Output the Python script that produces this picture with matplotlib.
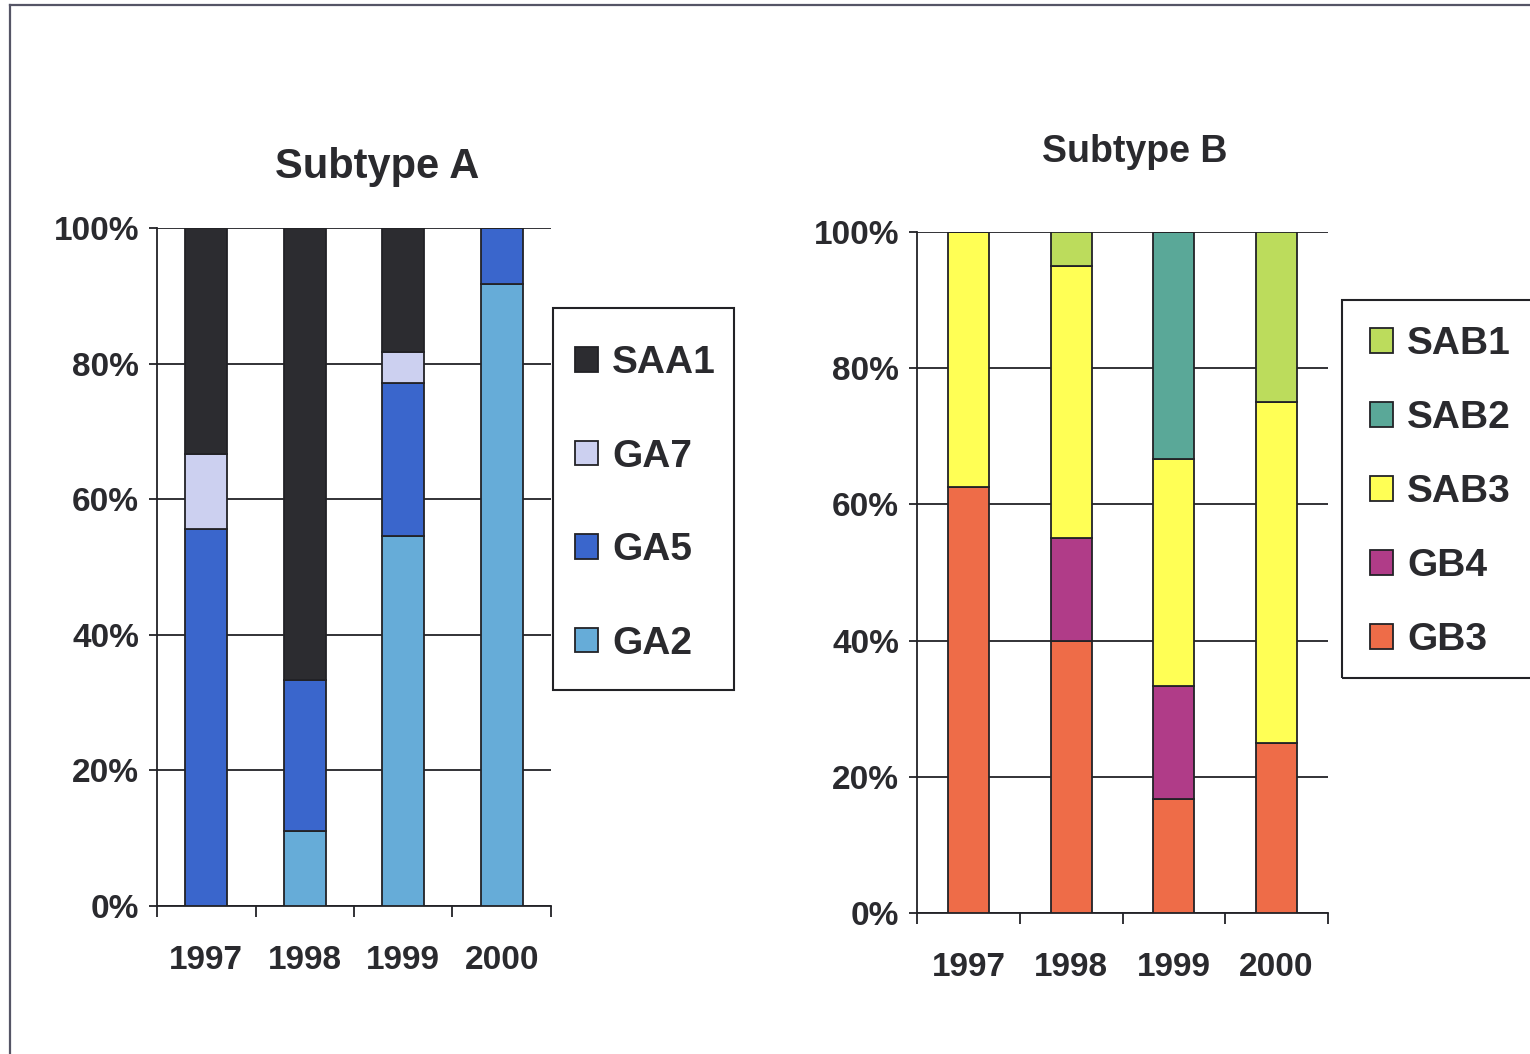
import numpy as np
import matplotlib
matplotlib.use('Agg')
import matplotlib.pyplot as plt
from matplotlib.lines import Line2D
from matplotlib.patches import Rectangle
from matplotlib.ticker import FixedLocator, FuncFormatter

years = ['1997', '1998', '1999', '2000']

# Subtype A, percent of isolates per year (bottom -> top)
ga2 = [0.0, 11.1, 54.5, 91.7]
ga5 = [55.6, 22.2, 22.7, 8.3]
ga7 = [11.1, 0.0, 4.5, 0.0]
saa1 = [33.3, 66.7, 18.3, 0.0]

# Subtype B, percent of isolates per year (bottom -> top)
gb3 = [62.5, 40.0, 16.7, 25.0]
gb4 = [0.0, 15.0, 16.7, 0.0]
sab3 = [37.5, 40.0, 33.3, 50.0]
sab2 = [0.0, 0.0, 33.3, 0.0]
sab1 = [0.0, 5.0, 0.0, 25.0]

series_a = [('GA2', ga2, '#66acd8'), ('GA5', ga5, '#3a66cc'),
            ('GA7', ga7, '#ccd0f0'), ('SAA1', saa1, '#2c2c30')]
series_b = [('GB3', gb3, '#ee6c48'), ('GB4', gb4, '#b03c88'),
            ('SAB3', sab3, '#ffff55'), ('SAB2', sab2, '#5aa898'),
            ('SAB1', sab1, '#bcdc5c')]

TXT = '#2a2a2e'
EDGE = '#222226'
REG = ['Liberation Sans', 'DejaVu Sans']
W, H = 1530, 1054

fig = plt.figure(figsize=(15.3, 10.54), dpi=100)
fig.patch.set_facecolor('white')


def fx(px):
    return px / W


def fy(py):
    return 1 - py / H


# frame around the picture
fig.add_artist(Line2D([fx(10), 1.0], [fy(5), fy(5)],
                      transform=fig.transFigure, color='#555566', lw=1.6))
fig.add_artist(Line2D([fx(10), fx(10)], [0.0, fy(5)],
                      transform=fig.transFigure, color='#555566', lw=1.6))


def stacked(ax, series, width):
    x = np.arange(len(years))
    bottom = np.zeros(len(years))
    handles = []
    for name, vals, col in series:
        vals = np.array(vals)
        h = ax.bar(x, vals, width, bottom=bottom, color=col,
                   edgecolor=EDGE, linewidth=1.3, label=name, zorder=3)
        handles.append(h)
        bottom = bottom + vals
    ax.set_xlim(-0.5, len(years) - 0.5)
    ax.set_ylim(0, 100)
    ax.set_axisbelow(True)
    ax.yaxis.grid(True, color=EDGE, lw=1.3)
    ax.set_yticks([0, 20, 40, 60, 80, 100])
    ax.yaxis.set_major_formatter(FuncFormatter(lambda v, p: f'{int(v)}%'))
    ax.set_xticks(x)
    ax.set_xticklabels(years)
    ax.xaxis.set_minor_locator(FixedLocator(np.arange(-0.5, len(years), 1.0)))
    ax.tick_params(axis='x', which='major', length=0, pad=28)
    ax.tick_params(axis='x', which='minor', length=8, width=1.3,
                   color=EDGE, direction='out')
    ax.tick_params(axis='y', length=6, width=1.3, color=EDGE, pad=7)
    for lab in ax.get_xticklabels() + ax.get_yticklabels():
        lab.set_family(REG)
        lab.set_fontweight('bold')
        lab.set_fontsize(24)
        lab.set_color(TXT)
    for s in ('top', 'right'):
        ax.spines[s].set_visible(False)
    for s in ('left', 'bottom'):
        ax.spines[s].set_color(EDGE)
        ax.spines[s].set_linewidth(1.3)
    return handles


axA = fig.add_axes([fx(157), fy(906), 394 / W, 678 / H])
hA = stacked(axA, series_a, 0.43)
axB = fig.add_axes([fx(917), fy(913), 411 / W, 681 / H])
hB = stacked(axB, series_b, 0.40)

fig.text(fx(377), fy(167), 'Subtype A', ha='center', va='center',
         fontsize=30, fontweight='bold', family=REG, color=TXT)
fig.text(fx(1135), fy(152), 'Subtype B', ha='center', va='center',
         fontsize=27, fontweight='bold', family=REG, color=TXT)

# legend boxes
fig.add_artist(Rectangle((fx(553), fy(690)), 181 / W, 382 / H,
                         transform=fig.transFigure, fill=False,
                         edgecolor=EDGE, lw=1.5))
fig.add_artist(Rectangle((fx(1342), fy(678)), 200 / W, 378 / H,
                         transform=fig.transFigure, fill=False,
                         edgecolor=EDGE, lw=1.5))

legA = fig.legend(hA[::-1], [s[0] for s in series_a][::-1], loc='upper left',
                  bbox_to_anchor=(fx(575), fy(345)),
                  bbox_transform=fig.transFigure, frameon=False,
                  prop={'family': REG, 'weight': 'bold', 'size': 28},
                  handlelength=0.6, handleheight=0.6, handletextpad=0.35,
                  labelspacing=1.48, borderpad=0, borderaxespad=0)

legB = fig.legend(hB[::-1], [s[0] for s in series_b][::-1], loc='upper left',
                  bbox_to_anchor=(fx(1370), fy(326)),
                  bbox_transform=fig.transFigure, frameon=False,
                  prop={'family': REG, 'weight': 'bold', 'size': 28},
                  handlelength=0.6, handleheight=0.6, handletextpad=0.35,
                  labelspacing=0.98, borderpad=0, borderaxespad=0)

for leg in (legA, legB):
    for t in leg.get_texts():
        t.set_color(TXT)

fig.savefig('out.png', dpi=100, facecolor='white')
